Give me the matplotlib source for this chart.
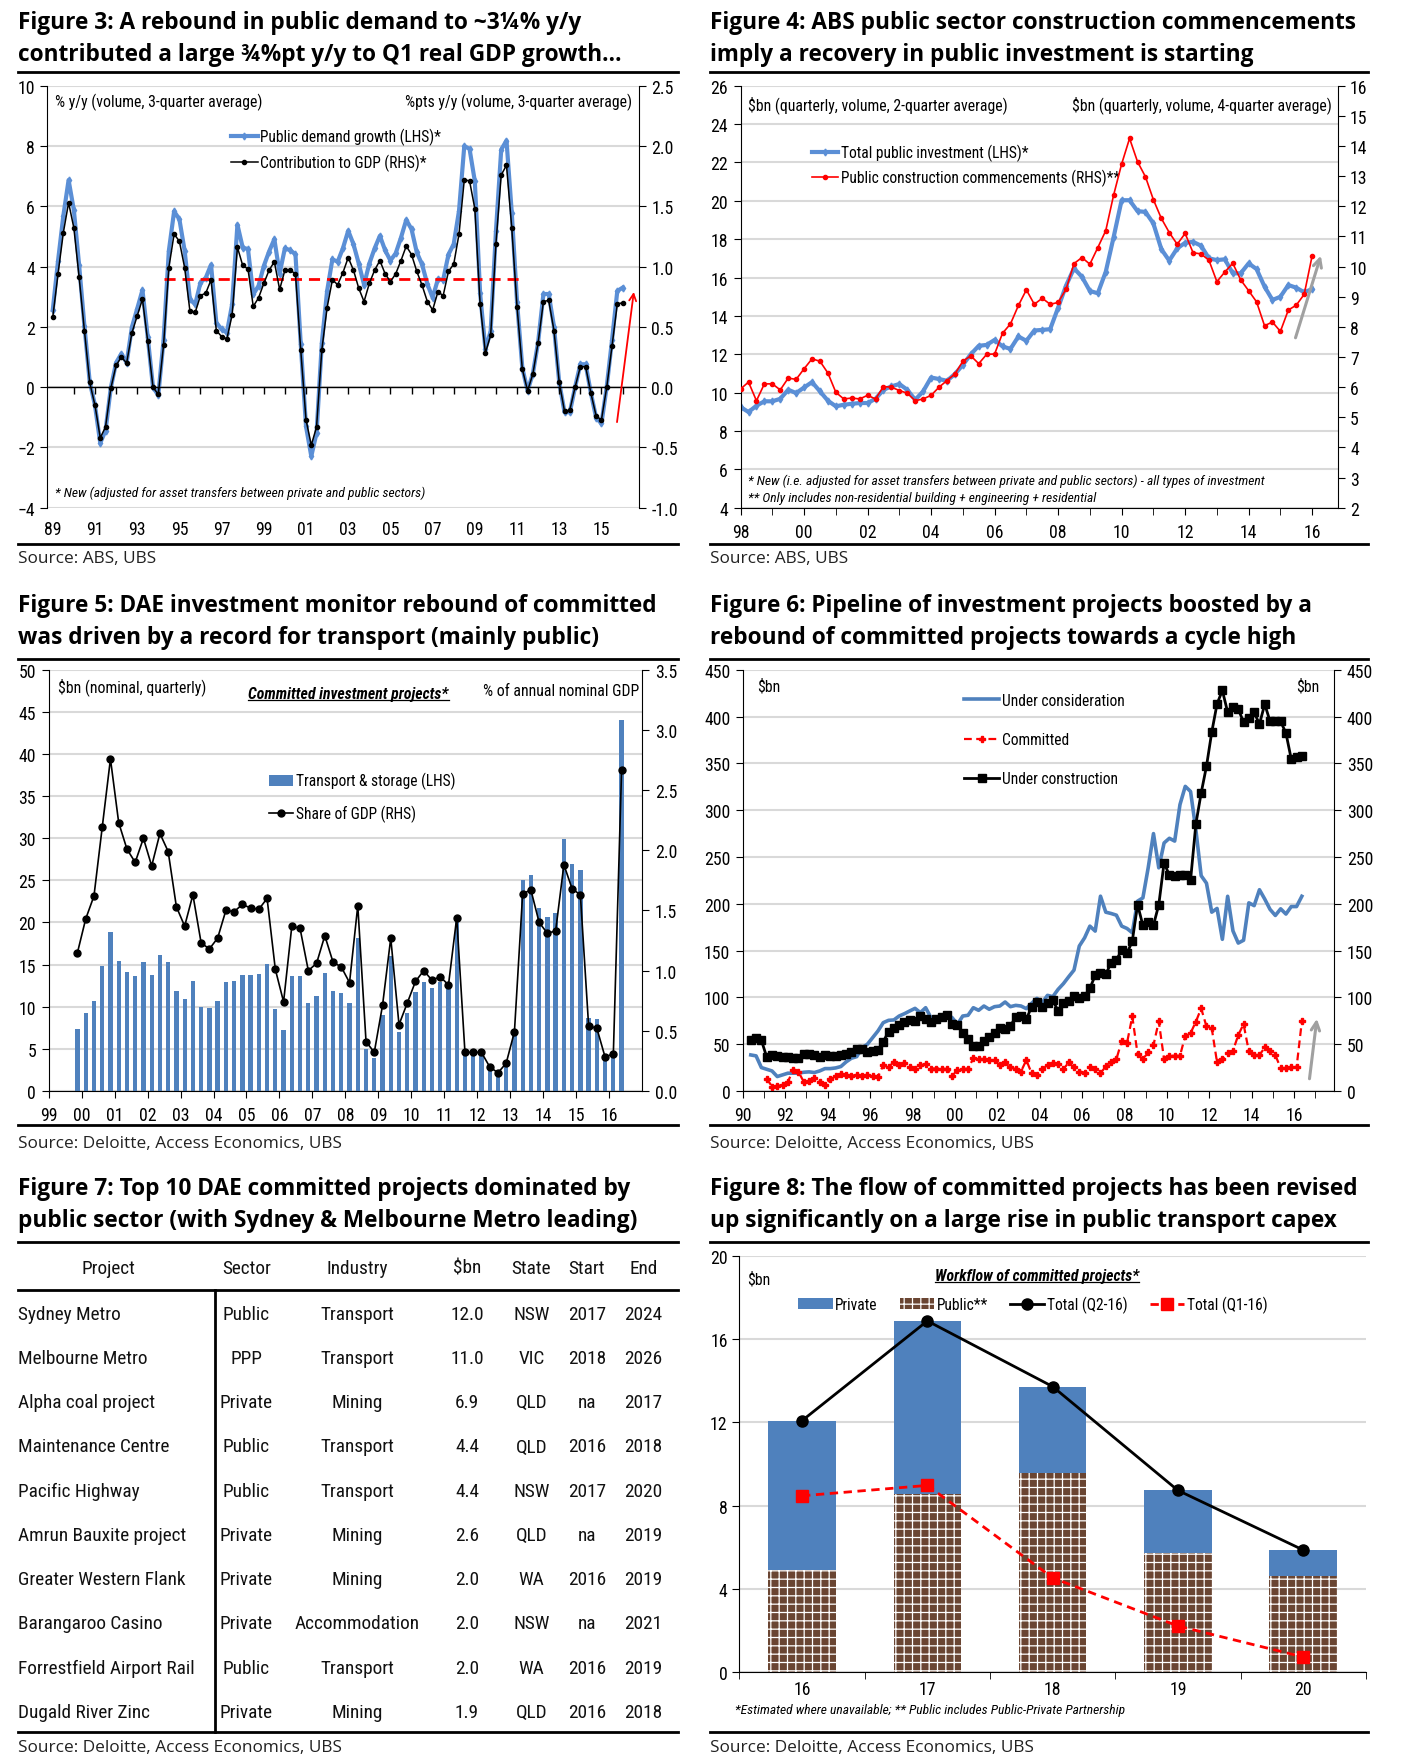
import numpy as np
import matplotlib
matplotlib.use('Agg')
import matplotlib.pyplot as plt
from matplotlib.lines import Line2D

NARROW = ['Liberation Sans Narrow', 'Roboto Condensed', 'Liberation Sans', 'DejaVu Sans']
TITLE = ['Open Sans', 'DejaVu Sans']
PLAIN = ['Open Sans', 'DejaVu Sans']
plt.rcParams['font.family'] = NARROW
plt.rcParams['hatch.color'] = 'white'
plt.rcParams['hatch.linewidth'] = 0.9

BLUE_L = '#5B8FD6'
BLUE = '#4F81BD'
GRID = '#D9D9D9'
BROWN = '#6A4532'

# ---- Figure 3: public demand growth (quarterly from 1989Q1) ----
f3_start = 1989
f3_public = [2.56, 4.19, 5.68, 6.87, 5.87, 4.04, 2.03, 0.18, -0.60, -1.85, -1.44, -0.02,
             0.81, 1.11, 0.81, 1.99, 2.6, 3.22, 1.66, 0.0, -0.27, 1.56, 4.52, 5.83,
             5.57, 4.52, 2.91, 2.75, 3.47, 3.63, 4.06, 2.14, 1.92, 1.81, 2.75, 5.39,
             4.63, 4.58, 3.08, 3.36, 4.02, 4.5, 4.91, 3.77, 4.61, 4.54, 4.41, 1.44,
             -1.3, -2.29, -1.52, 1.47, 3.19, 4.24, 4.16, 4.61, 5.19, 4.74, 4.1, 3.4,
             4.1, 4.6, 5.02, 4.54, 4.2, 4.44, 4.96, 5.55, 5.24, 4.47, 4.07, 3.42,
             2.97, 3.58, 3.56, 4.4, 4.75, 5.85, 8.0, 7.9, 6.83, 3.12, 1.25, 1.86,
             5.18, 7.88, 8.18, 5.79, 2.82, 0.64, -0.12, 0.45, 1.5, 3.09, 3.09, 2.01,
             0.15, -0.83, -0.83, 0.0, 0.76, 0.76, -0.2, -1.02, -1.2, 0.02, 1.56, 3.19, 3.3]
f3_contrib = [0.58, 0.94, 1.28, 1.53, 1.32, 0.91, 0.47, 0.04, -0.15, -0.42, -0.33, -0.01,
              0.18, 0.25, 0.20, 0.45, 0.59, 0.73, 0.38, 0.0, -0.06, 0.35, 0.99, 1.27,
              1.21, 0.99, 0.63, 0.62, 0.76, 0.78, 0.89, 0.47, 0.42, 0.40, 0.60, 1.16,
              1.01, 0.98, 0.67, 0.74, 0.86, 0.97, 1.04, 0.81, 0.97, 0.97, 0.94, 0.31,
              -0.27, -0.48, -0.33, 0.31, 0.66, 0.89, 0.85, 0.95, 1.075, 0.97, 0.82, 0.71,
              0.86, 0.97, 1.05, 0.94, 0.875, 0.94, 1.05, 1.17, 1.10, 0.96, 0.845, 0.71,
              0.64, 0.79, 0.76, 0.96, 1.02, 1.27, 1.72, 1.71, 1.48, 0.69, 0.285, 0.43,
              1.19, 1.76, 1.84, 1.32, 0.665, 0.15, -0.03, 0.11, 0.37, 0.71, 0.72, 0.47,
              0.04, -0.2, -0.19, 0.0, 0.17, 0.17, -0.05, -0.24, -0.27, 0.0, 0.34, 0.69, 0.70]
f3_avg = 3.58
f3_avg_span = [1994.25, 2011.25]

# ---- Figure 4: public investment vs commencements (quarterly from 1998Q1) ----
f4_start = 1998
f4_invest = [9.25, 8.99, 9.32, 9.55, 9.55, 9.68, 10.15, 9.98, 10.27, 10.55, 10.07, 9.58,
             9.29, 9.37, 9.42, 9.46, 9.46, 9.68, 10.15, 10.33, 10.45, 10.15, 9.63, 10.07,
             10.79, 10.71, 10.62, 10.97, 11.45, 12.0, 12.44, 12.49, 12.75, 12.41, 12.28, 12.93,
             12.7, 13.24, 13.27, 13.31, 14.43, 15.58, 16.48, 16.04, 15.3, 15.18, 16.3, 18.12,
             20.03, 20.03, 19.46, 19.42, 18.82, 17.48, 16.88, 17.52, 17.81, 17.86, 17.66, 17.0,
             16.91, 16.95, 16.22, 16.22, 16.74, 16.44, 15.53, 14.83, 15.0, 15.61, 15.47, 15.23, 15.4]
f4_commence = [5.94, 6.17, 5.55, 6.11, 6.11, 5.91, 6.30, 6.26, 6.61, 6.94, 6.86, 6.47,
               5.83, 5.61, 5.64, 5.61, 5.73, 5.61, 6.02, 6.0, 5.89, 5.80, 5.55, 5.61,
               5.73, 6.0, 6.22, 6.44, 6.86, 7.04, 6.78, 7.09, 7.10, 7.79, 8.10, 8.71,
               9.23, 8.75, 8.95, 8.75, 8.81, 9.25, 10.10, 10.30, 10.08, 10.63, 11.19, 12.38,
               13.40, 14.25, 13.48, 12.98, 12.22, 11.6, 11.13, 10.74, 11.1, 10.46, 10.42, 10.21,
               9.5, 9.82, 10.11, 9.56, 9.2, 8.83, 8.04, 8.16, 7.85, 8.56, 8.72, 9.08, 10.36]

# ---- Figure 5: committed transport projects (quarterly from 1999Q4) ----
f5_start = 1999.875
f5_transport = [7.3, 9.25, 10.67, 14.82, 18.85, 15.4, 14.15, 13.6, 15.3, 13.8, 16.1, 15.25,
                11.9, 10.87, 13.1, 9.96, 9.8, 10.67, 12.9, 13.0, 13.8, 13.8, 13.9, 15.1,
                9.7, 7.2, 13.7, 13.7, 10.4, 11.26, 14.0, 11.9, 11.6, 10.4, 18.2, 5.0,
                3.95, 9.0, 16.0, 7.0, 9.3, 11.7, 12.96, 12.25, 12.96, 12.45, 20.2, 4.74,
                4.74, 4.55, 3.24, 2.37, 3.36, 7.1, 25.0, 25.6, 21.7, 20.6, 21.1, 29.9,
                26.96, 26.2, 8.7, 8.5, 4.15, 4.6, 44.0]
f5_share = [1.15, 1.43, 1.62, 2.19, 2.76, 2.23, 2.01, 1.90, 2.10, 1.87, 2.14, 1.99,
            1.53, 1.37, 1.63, 1.23, 1.18, 1.27, 1.50, 1.49, 1.55, 1.52, 1.51, 1.60,
            1.01, 0.74, 1.37, 1.35, 1.00, 1.06, 1.29, 1.07, 1.03, 0.90, 1.54, 0.41,
            0.32, 0.71, 1.27, 0.55, 0.73, 0.91, 1.00, 0.92, 0.95, 0.88, 1.44, 0.32,
            0.32, 0.32, 0.20, 0.15, 0.23, 0.49, 1.64, 1.67, 1.40, 1.31, 1.33, 1.88,
            1.68, 1.63, 0.54, 0.52, 0.28, 0.31, 2.67]

# ---- Figure 6: investment pipeline (quarterly from 1990Q2) ----
f6_start = 1990.375
f6_consider = [38.4, 37.4, 24.9, 23.1, 21.3, 15.3, 17.1, 18.9, 18.9, 18.9, 19.9, 20.3,
               19.6, 21.3, 23.8, 23.8, 24.5, 26.0, 31.0, 34.9, 36.6, 46.2, 49.8, 56.9,
               64.0, 72.9, 75.4, 75.8, 80.0, 82.5, 85.4, 88.2, 83.6, 88.9, 78.3, 78.3,
               80.0, 81.8, 78.3, 71.1, 80.0, 80.8, 88.9, 86.1, 90.7, 87.2, 90.0, 90.7,
               95.0, 90.0, 91.4, 90.7, 87.9, 93.6, 98.9, 94.3, 102.1, 100.7, 108.5, 114.6,
               122.0, 129.1, 154.8, 163.6, 176.1, 170.8, 208.1, 191.0, 189.6, 187.8, 176.1, 173.6,
               169.0, 202.8, 206.3, 238.4, 275.0, 238.4, 265.0, 270.0, 267.0, 306.0, 325.5, 320.0,
               279.0, 230.0, 222.0, 191.0, 195.0, 162.0, 208.0, 171.0, 158.0, 161.0, 201.0, 198.0,
               215.0, 205.0, 194.0, 187.5, 194.6, 189.0, 197.0, 197.0, 208.0]
f6_construct = [54.4, 56.9, 54.1, 36.3, 38.4, 37.4, 35.9, 35.9, 34.9, 34.9, 39.8, 39.1,
                38.1, 36.3, 38.4, 37.4, 37.4, 38.4, 39.8, 41.6, 44.5, 44.5, 41.6, 42.3,
                43.8, 52.6, 63.3, 66.9, 70.1, 74.0, 75.4, 74.7, 80.0, 76.5, 73.6, 76.5,
                79.0, 80.8, 71.1, 70.1, 62.3, 55.9, 48.0, 48.0, 53.4, 57.6, 62.3, 67.6,
                66.5, 69.4, 79.0, 80.0, 76.5, 90.0, 95.3, 90.0, 94.3, 96.8, 85.4, 94.3,
                96.1, 101.4, 99.6, 101.4, 109.6, 123.4, 125.6, 124.5, 137.0, 140.2, 150.1, 146.9,
                160.1, 199.2, 176.8, 180.7, 177.2, 198.9, 243.7, 230.5, 229.5, 231.2, 230.5, 225.2,
                285.3, 318.4, 346.9, 383.5, 413.7, 428.0, 404.8, 409.8, 408.0, 394.2, 398.4, 404.5,
                392.0, 413.4, 394.9, 394.9, 394.9, 382.4, 354.7, 356.8, 358.2]
f6_commit_start = 1991.125
f6_committed = [13.2, 4.6, 5.4, 6.1, 9.6, 22.5, 20.4, 9.6, 10.7, 13.9, 9.6, 6.1,
                12.5, 15.4, 17.9, 16.8, 16.1, 17.1, 16.1, 16.8, 15.4, 15.0, 27.5, 25.0,
                31.1, 27.9, 29.3, 25.7, 23.2, 27.5, 28.6, 23.9, 23.9, 23.9, 23.2, 16.1,
                22.1, 23.2, 23.9, 34.6, 33.9, 33.9, 32.9, 32.9, 27.5, 30.4, 25.0, 23.2,
                20.7, 32.9, 18.9, 16.8, 23.2, 27.5, 29.6, 28.6, 23.2, 30.4, 25.0, 20.7,
                19.6, 25.4, 23.9, 18.9, 26.1, 31.1, 33.9, 53.2, 51.1, 79.6, 39.3, 33.9,
                41.1, 48.9, 74.3, 33.9, 37.5, 37.5, 37.5, 58.9, 61.8, 73.9, 88.2, 68.9,
                66.8, 30.4, 33.9, 40.0, 42.9, 59.6, 71.4, 42.1, 38.2, 38.2, 46.4, 42.9,
                38.2, 24.3, 24.3, 25.0, 25.0, 74.3]

# ---- Figure 7: top 10 committed projects ----
t7_project = ['Sydney Metro', 'Melbourne Metro', 'Alpha coal project', 'Maintenance Centre',
              'Pacific Highway', 'Amrun Bauxite project', 'Greater Western Flank',
              'Barangaroo Casino', 'Forrestfield Airport Rail', 'Dugald River Zinc']
t7_sector = ['Public', 'PPP', 'Private', 'Public', 'Public', 'Private', 'Private', 'Private',
             'Public', 'Private']
t7_industry = ['Transport', 'Transport', 'Mining', 'Transport', 'Transport', 'Mining', 'Mining',
               'Accommodation', 'Transport', 'Mining']
t7_bn = [12.0, 11.0, 6.9, 4.4, 4.4, 2.6, 2.0, 2.0, 2.0, 1.9]
t7_state = ['NSW', 'VIC', 'QLD', 'QLD', 'NSW', 'QLD', 'WA', 'NSW', 'WA', 'QLD']
t7_start = ['2017', '2018', 'na', '2016', '2017', 'na', '2016', 'na', '2016', '2016']
t7_end = ['2024', '2026', '2017', '2018', '2020', '2019', '2019', '2021', '2019', '2018']

# ---- Figure 8: workflow of committed projects ----
f8_years = ['16', '17', '18', '19', '20']
f8_public = [4.89, 8.56, 9.58, 5.71, 4.6]
f8_private = [7.2, 8.33, 4.15, 3.02, 1.26]
f8_total_q2 = [12.09, 16.89, 13.73, 8.73, 5.86]
f8_total_q1 = [8.47, 8.97, 4.52, 2.2, 0.71]

W, H = 1240.0, 1568.0
LEG = 11.2
NOTE = 11.3
FOOT = 9.7
TICK = 12.8
TITLE_SIZE = 16.3


def fx(x):
    return x / W


def fy(y):
    return 1 - y / H


fig = plt.figure(figsize=(14.02, 17.65), dpi=100)
underlined = []


def add_ax(l, t, r, b):
    return fig.add_axes([fx(l), fy(b), fx(r) - fx(l), fy(t) - fy(b)])


def hrule(x0, x1, y, lw=2.0):
    fig.add_artist(Line2D([fx(x0), fx(x1)], [fy(y), fy(y)], color='black', lw=lw))


def frame(x0, x1, title, ty, rule_top, rule_bot, src_y, source):
    for k, line in enumerate(title):
        fig.text(fx(x0), fy(ty + 29 * k), line, fontsize=TITLE_SIZE, fontweight='bold',
                 family=TITLE, va='center')
    hrule(x0, x1, rule_top)
    hrule(x0, x1, rule_bot)
    fig.text(fx(x0), fy(src_y), source, fontsize=12.4, family=PLAIN, va='center', color='#222222')


def style_twin(ax, ax2):
    for a in (ax, ax2):
        a.spines['top'].set_visible(False)
        a.spines['bottom'].set_visible(False)
    ax.spines['right'].set_visible(False)
    ax2.spines['left'].set_visible(False)
    ax.yaxis.grid(True, color=GRID, lw=1.5)
    ax.set_axisbelow(True)
    for a in (ax, ax2):
        a.tick_params(axis='y', direction='out', length=5, labelsize=TICK, pad=4)
    ax.patch.set_visible(False)


def year_labels(ax, years):
    ax.set_xticks(years)
    ax.set_xticklabels(['%02d' % (int(y) % 100) for y in years])


def legend(ax, handles, labels, x, y, spacing, hl=1.7, **kw):
    ax.legend(handles, labels, loc='upper left', bbox_to_anchor=(x, y), frameon=False,
              fontsize=LEG, handlelength=hl, handletextpad=0.15, labelspacing=spacing,
              borderaxespad=0, **kw)


# ---------------- Figure 3 ----------------
frame(16, 600, ['Figure 3: A rebound in public demand to ~3\u00bc% y/y',
                'contributed a large \u00be%pt y/y to Q1 real GDP growth\u2026'],
      20, 65, 484, 497, 'Source: ABS, UBS')
ax = add_ax(42, 77, 565, 452)
ax2 = ax.twinx()
ax.set_zorder(ax2.get_zorder() - 1)
ax2.patch.set_visible(False)
x3 = f3_start + np.arange(len(f3_public)) / 4
x3b = f3_start + np.arange(len(f3_contrib)) / 4
ax.plot(x3, f3_public, color=BLUE_L, lw=3, marker='d', ms=3.5, label='Public demand growth (LHS)*')
ax2.plot(x3b, f3_contrib, color='black', lw=1.1, marker='o', ms=3, label='Contribution to GDP (RHS)*')
ax.hlines(f3_avg, f3_avg_span[0], f3_avg_span[1], colors='red', linestyles=(0, (4, 2.5)), lw=2, zorder=4)
ax.annotate('', xy=(2016.55, 3.25), xytext=(2015.72, -1.25),
            arrowprops=dict(arrowstyle='->,head_width=0.25,head_length=0.5', color='red', lw=1.3))
ax.set_xlim(1988.75, 2016.77)
ax.set_ylim(-4, 10)
ax2.set_ylim(-1, 2.5)
ax.set_yticks(np.arange(-4, 11, 2))
ax2.set_yticks(np.arange(-1, 2.6, 0.5))
ax2.set_yticklabels(['%.1f' % v for v in np.arange(-1, 2.6, 0.5)])
style_twin(ax, ax2)
ax.axhline(0, color='black', lw=1)
yrs3 = np.arange(1990, 2017)
ax.plot(yrs3, np.zeros(len(yrs3)), ls='none', marker=3, ms=5, color='black', mew=1)
year_labels(ax, np.arange(1989, 2016, 2))
ax.tick_params(axis='x', length=0, labelsize=TICK, pad=9)
ax2.tick_params(axis='x', length=0)
h1, l1 = ax.get_legend_handles_labels()
h2, l2 = ax2.get_legend_handles_labels()
legend(ax, h1 + h2, l1 + l2, 0.30, 0.914, 0.55)
ax.text(0.012, 0.962, '% y/y (volume, 3-quarter average)', transform=ax.transAxes, fontsize=NOTE, va='center')
ax.text(0.988, 0.962, '%pts y/y (volume, 3-quarter average)', transform=ax.transAxes, fontsize=NOTE,
        va='center', ha='right')
ax.text(0.012, 0.037, '* New (adjusted for asset transfers between private and public sectors)',
        transform=ax.transAxes, fontsize=FOOT, fontstyle='italic', va='center')

# ---------------- Figure 4 ----------------
frame(628, 1210, ['Figure 4: ABS public sector construction commencements',
                  'imply a recovery in public investment is starting'],
      20, 65, 484, 497, 'Source: ABS, UBS')
ax = add_ax(655, 77, 1183, 452)
ax2 = ax.twinx()
ax.set_zorder(ax2.get_zorder() - 1)
ax2.patch.set_visible(False)
x4 = f4_start + np.arange(len(f4_invest)) / 4
x4b = f4_start + np.arange(len(f4_commence)) / 4
ax.plot(x4, f4_invest, color=BLUE_L, lw=3, marker='d', ms=3.5, label='Total public investment (LHS)*')
ax2.plot(x4b, f4_commence, color='red', lw=1.2, marker='o', ms=3,
         label='Public construction commencements (RHS)**')
ax2.annotate('', xy=(2016.3, 10.45), xytext=(2015.45, 7.55),
             arrowprops=dict(arrowstyle='->,head_width=0.3,head_length=0.6', color='#A0A0A0', lw=2.2))
ax.set_xlim(1998, 2016.8)
ax.set_ylim(4, 26)
ax2.set_ylim(2, 16)
ax.set_yticks(np.arange(4, 27, 2))
ax2.set_yticks(np.arange(2, 17, 1))
style_twin(ax, ax2)
ax.spines['bottom'].set_visible(True)
ax.set_xticks(np.arange(1998, 2017), minor=True)
year_labels(ax, np.arange(1998, 2017, 2))
ax.tick_params(axis='x', which='both', direction='out', length=5, labelsize=TICK, pad=6)
h1, l1 = ax.get_legend_handles_labels()
h2, l2 = ax2.get_legend_handles_labels()
legend(ax, h1 + h2, l1 + l2, 0.109, 0.877, 0.52)
ax.text(0.012, 0.957, '$bn (quarterly, volume, 2-quarter average)', transform=ax.transAxes,
        fontsize=NOTE, va='center')
ax.text(0.99, 0.957, '$bn (quarterly, volume, 4-quarter average)', transform=ax.transAxes,
        fontsize=NOTE, va='center', ha='right')
ax.text(0.012, 0.065, '* New (i.e. adjusted for asset transfers between private and public sectors) - all types of investment',
        transform=ax.transAxes, fontsize=FOOT, fontstyle='italic', va='center')
ax.text(0.012, 0.024, '** Only includes non-residential building + engineering + residential',
        transform=ax.transAxes, fontsize=FOOT, fontstyle='italic', va='center')

# ---------------- Figure 5 ----------------
frame(16, 600, ['Figure 5: DAE investment monitor rebound of committed',
                'was driven by a record for transport (mainly public)'],
      538, 586, 1000, 1016, 'Source: Deloitte, Access Economics, UBS')
ax = add_ax(43, 596, 568, 970)
ax2 = ax.twinx()
ax.set_zorder(ax2.get_zorder() - 1)
ax2.patch.set_visible(False)
x5 = f5_start + np.arange(len(f5_transport)) / 4
x5b = f5_start + np.arange(len(f5_share)) / 4
ax.bar(x5, f5_transport, width=0.13, color=BLUE, label='Transport & storage (LHS)')
ax2.plot(x5b, f5_share, color='black', lw=1.2, marker='o', ms=5, label='Share of GDP (RHS)')
ax.set_xlim(1999, 2017)
ax.set_ylim(0, 50)
ax2.set_ylim(0, 3.5)
ax.set_yticks(np.arange(0, 51, 5))
ax2.set_yticks(np.arange(0, 3.6, 0.5))
ax2.set_yticklabels(['%.1f' % v for v in np.arange(0, 3.6, 0.5)])
style_twin(ax, ax2)
ax.spines['bottom'].set_visible(True)
year_labels(ax, np.arange(1999, 2017))
ax.tick_params(axis='x', direction='out', length=5, labelsize=TICK, pad=6)
h1, l1 = ax.get_legend_handles_labels()
h2, l2 = ax2.get_legend_handles_labels()
legend(ax, h1 + h2, l1 + l2, 0.36, 0.772, 1.02, hl=1.6)
ax.text(0.015, 0.962, '$bn (nominal, quarterly)', transform=ax.transAxes, fontsize=NOTE, va='center')
ax.text(0.995, 0.952, '% of annual nominal GDP', transform=ax.transAxes, fontsize=NOTE,
        va='center', ha='right')
underlined.append(ax.text(0.505, 0.943, 'Committed investment projects*', transform=ax.transAxes,
                          fontsize=NOTE, fontweight='bold', fontstyle='italic', va='center', ha='center'))

# ---------------- Figure 6 ----------------
frame(628, 1210, ['Figure 6: Pipeline of investment projects boosted by a',
                  'rebound of committed projects towards a cycle high'],
      538, 586, 1000, 1016, 'Source: Deloitte, Access Economics, UBS')
ax = add_ax(657, 596, 1180, 970)
ax2 = ax.twinx()
x6 = f6_start + np.arange(len(f6_consider)) / 4
x6b = f6_start + np.arange(len(f6_construct)) / 4
x6c = f6_commit_start + np.arange(len(f6_committed)) / 4
ax.plot(x6, f6_consider, color=BLUE, lw=2.6, label='Under consideration')
ax.plot(x6c, f6_committed, color='red', lw=1.6, ls=(0, (3.5, 2)), marker='P', ms=4,
        label='Committed')
ax.plot(x6b, f6_construct, color='black', lw=2, marker='s', ms=6, label='Under construction')
ax.annotate('', xy=(2017.1, 80), xytext=(2016.72, 10),
            arrowprops=dict(arrowstyle='->,head_width=0.3,head_length=0.6', color='#A0A0A0', lw=2.2))
ax.set_xlim(1990, 2017.9)
ax.set_ylim(0, 450)
ax2.set_ylim(0, 450)
ax.set_yticks(np.arange(0, 451, 50))
ax2.set_yticks(np.arange(0, 451, 50))
style_twin(ax, ax2)
ax.patch.set_visible(True)
ax.spines['bottom'].set_visible(True)
ax.set_xticks(np.arange(1990, 2018), minor=True)
year_labels(ax, np.arange(1990, 2017, 2))
ax.tick_params(axis='x', which='both', direction='out', length=5, labelsize=TICK, pad=6)
h1, l1 = ax.get_legend_handles_labels()
legend(ax, h1, l1, 0.363, 0.96, 1.55, hl=2.3)
ax.text(0.025, 0.962, '$bn', transform=ax.transAxes, fontsize=NOTE, va='center')
ax.text(0.975, 0.962, '$bn', transform=ax.transAxes, fontsize=NOTE, va='center', ha='right')

# ---------------- Figure 7 (table) ----------------
frame(16, 600, ['Figure 7: Top 10 DAE committed projects dominated by',
                'public sector (with Sydney & Melbourne Metro leading)'],
      1056, 1104, 1540, 1553, 'Source: Deloitte, Access Economics, UBS')
hrule(16, 600, 1147)
fig.add_artist(Line2D([fx(190), fx(190)], [fy(1147), fy(1540)], color='black', lw=2))
col_x = [96, 218, 316, 413, 470, 519, 569]
headers = ['Project', 'Sector', 'Industry', '$bn', 'State', 'Start', 'End']
tfont = dict(fontsize=13.9, family=NARROW, va='center', color='#111111')
for cx, hd in zip(col_x, headers):
    fig.text(fx(cx), fy(1127), hd, ha='center', **tfont)
row_y = 1168 + np.arange(len(t7_project)) * 39.3
for i, ry in enumerate(row_y):
    fig.text(fx(16), fy(ry), t7_project[i], ha='left', **tfont)
    cells = [t7_sector[i], t7_industry[i], '%.1f' % t7_bn[i], t7_state[i], t7_start[i], t7_end[i]]
    for cx, c in zip(col_x[1:], cells):
        fig.text(fx(cx), fy(ry), c, ha='center', **tfont)

# ---------------- Figure 8 ----------------
frame(628, 1210, ['Figure 8: The flow of committed projects has been revised',
                  'up significantly on a large rise in public transport capex'],
      1056, 1104, 1540, 1553, 'Source: Deloitte, Access Economics, UBS')
ax = add_ax(654, 1117, 1208, 1486)
x8 = np.arange(len(f8_years))
ax.bar(x8, f8_public, width=0.54, color=BROWN, hatch='++', lw=0, label='Public**')
ax.bar(x8, f8_private, width=0.54, bottom=f8_public, color=BLUE, lw=0, label='Private')
ax.plot(x8, f8_total_q2, color='black', lw=2, marker='o', ms=8, label='Total (Q2-16)')
ax.plot(x8, f8_total_q1, color='red', lw=2, ls=(0, (3, 2)), marker='s', ms=9, label='Total (Q1-16)')
ax.set_xlim(-0.5, 4.5)
ax.set_ylim(0, 20)
ax.set_yticks(np.arange(0, 21, 4))
ax.yaxis.grid(True, color=GRID, lw=1.5)
ax.set_axisbelow(True)
for s in ['top', 'right']:
    ax.spines[s].set_visible(False)
ax.set_xticks(x8)
ax.set_xticklabels(f8_years)
ax.set_xticks(np.arange(-0.5, 4.6, 1), minor=True)
ax.tick_params(axis='x', which='major', length=0, labelsize=TICK, pad=6)
ax.tick_params(axis='x', which='minor', length=5, direction='out')
ax.tick_params(axis='y', direction='out', length=5, labelsize=TICK)
hs, ls_ = ax.get_legend_handles_labels()
by_label = dict(zip(ls_, hs))
order = ['Private', 'Public**', 'Total (Q2-16)', 'Total (Q1-16)']
legend(ax, [by_label[k] for k in order], order, 0.084, 0.92, 0.5, hl=2.2, ncol=4, columnspacing=1.45)
ax.text(0.012, 0.945, '$bn', transform=ax.transAxes, fontsize=NOTE, va='center')
underlined.append(ax.text(0.475, 0.953, 'Workflow of committed projects*', transform=ax.transAxes,
                          fontsize=NOTE, fontweight='bold', fontstyle='italic', va='center', ha='center'))
fig.text(fx(650), fy(1520), '*Estimated where unavailable; ** Public includes Public-Private Partnership',
         fontsize=FOOT, fontstyle='italic', va='center')

fig.canvas.draw()
inv = fig.transFigure.inverted()
for t in underlined:
    bb = t.get_window_extent().transformed(inv)
    fig.add_artist(Line2D([bb.x0, bb.x1], [bb.y0 + 0.0008, bb.y0 + 0.0008], color='black', lw=0.9))

fig.savefig('out.png', dpi=100)
